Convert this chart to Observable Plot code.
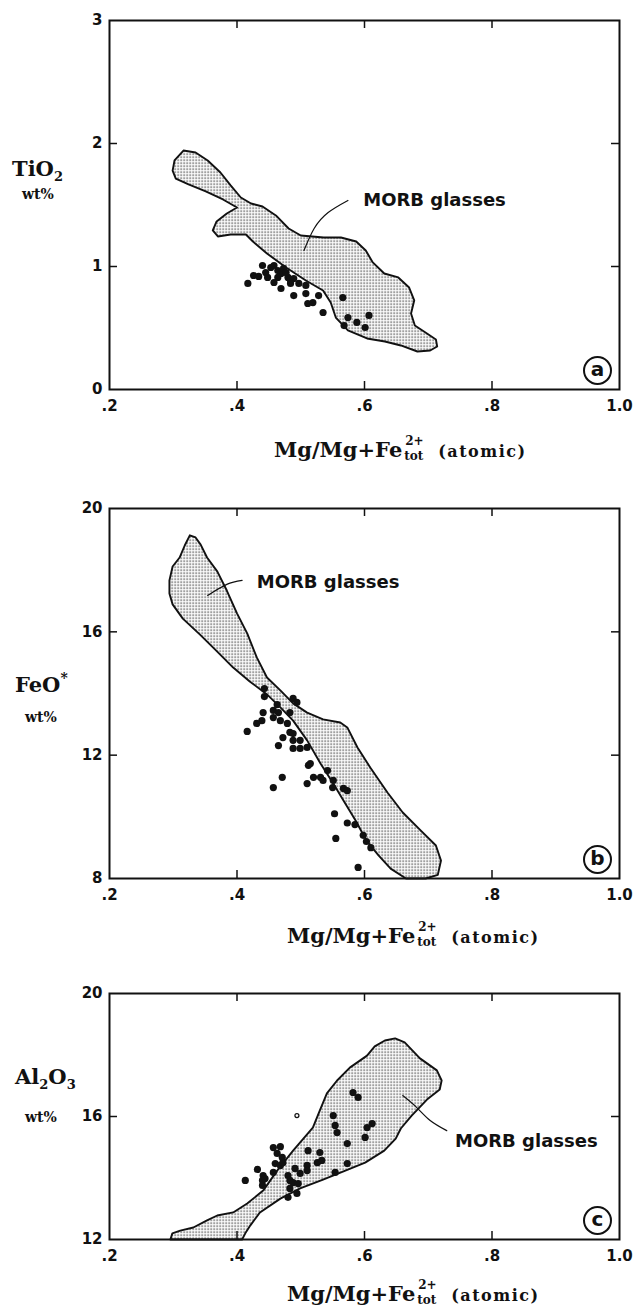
<!DOCTYPE html>
<html><head><meta charset="utf-8">
<script src="https://cdn.jsdelivr.net/npm/d3@7"></script>
<script src="https://cdn.jsdelivr.net/npm/@observablehq/plot@0.6"></script>
<style>
body{margin:0;background:#fff;}
#wrap{position:relative;width:633px;height:1309px;overflow:hidden;background:#fff;}
.panel{position:absolute;left:0;}
.lab{position:absolute;white-space:nowrap;font-family:"DejaVu Serif",serif;font-weight:bold;color:#111;line-height:1;}
.xt{font-size:21px;}
.ss{display:inline-block;position:relative;width:26px;height:21px;}
.ss .sup{position:absolute;left:3px;top:-1px;font-size:12px;}
.ss .sub{position:absolute;left:2px;top:14px;font-size:12px;}
.atom{font-size:16px;margin-left:10px;letter-spacing:1.5px;}
.yt{font-size:21px;}
.sb{position:relative;top:5px;font-size:13px;}
.sp{position:relative;top:-9px;font-size:14px;}
.wt{font-size:14px;}
</style></head><body><div id="wrap"></div>
<script>
// ---------- data ----------
const xTicks = [0.2, 0.4, 0.6, 0.8, 1.0];
const xTickLabels = [".2", ".4", ".6", ".8", "1.0"];
const xInnerTicks = [0.4, 0.6, 0.8];

const tiTicks = [0, 1, 2, 3];
const tiTickLabels = ["0", "1", "2", "3"];
const tiInnerTicks = [1, 2];
const feTicks = [8, 12, 16, 20];
const feTickLabels = ["8", "12", "16", "20"];
const feInnerTicks = [12, 16];
const alTicks = [12, 16, 20];
const alTickLabels = ["12", "16", "20"];
const alInnerTicks = [16];

// MORB glasses fields (outline)
const tiMorb = [[0.299,1.780],[0.302,1.862],[0.316,1.943],[0.335,1.927],[0.354,1.862],[0.374,1.764],[0.390,1.659],[0.406,1.561],[0.422,1.512],[0.440,1.488],[0.461,1.415],[0.481,1.309],[0.500,1.252],[0.536,1.236],[0.563,1.236],[0.587,1.203],[0.602,1.130],[0.613,1.033],[0.631,0.943],[0.653,0.911],[0.670,0.829],[0.678,0.724],[0.673,0.618],[0.679,0.520],[0.698,0.455],[0.712,0.407],[0.714,0.350],[0.703,0.317],[0.683,0.309],[0.657,0.358],[0.632,0.390],[0.604,0.415],[0.574,0.480],[0.555,0.585],[0.547,0.707],[0.535,0.805],[0.508,0.886],[0.477,0.992],[0.447,1.106],[0.425,1.203],[0.414,1.260],[0.390,1.260],[0.370,1.244],[0.362,1.293],[0.368,1.366],[0.384,1.431],[0.400,1.480],[0.378,1.545],[0.351,1.610],[0.324,1.667],[0.304,1.715]];
const feMorb = [[0.326,19.13],[0.335,19.06],[0.343,18.83],[0.353,18.41],[0.369,17.96],[0.384,17.34],[0.400,16.60],[0.416,15.95],[0.431,15.17],[0.447,14.52],[0.468,14.10],[0.488,13.68],[0.510,13.38],[0.535,13.16],[0.562,13.06],[0.573,12.90],[0.589,12.25],[0.609,11.60],[0.636,10.79],[0.660,10.14],[0.688,9.56],[0.712,9.07],[0.720,8.58],[0.715,8.12],[0.696,8.0],[0.665,8.0],[0.641,8.32],[0.622,8.75],[0.603,9.23],[0.586,9.88],[0.567,10.53],[0.551,11.08],[0.531,11.73],[0.510,12.48],[0.488,13.12],[0.468,13.55],[0.447,13.97],[0.420,14.39],[0.394,14.84],[0.369,15.36],[0.342,15.91],[0.315,16.43],[0.299,16.89],[0.294,17.24],[0.294,17.67],[0.299,18.12],[0.310,18.41],[0.318,18.80]];
const alMorb = [[0.2955,12.0],[0.2986,12.20],[0.311,12.29],[0.3315,12.39],[0.353,12.62],[0.369,12.78],[0.394,12.88],[0.416,13.17],[0.441,13.59],[0.463,14.24],[0.488,14.89],[0.519,15.64],[0.530,16.20],[0.541,16.75],[0.557,17.17],[0.577,17.59],[0.604,17.98],[0.616,18.28],[0.632,18.47],[0.648,18.54],[0.663,18.41],[0.687,17.89],[0.7135,17.50],[0.721,17.17],[0.718,16.88],[0.698,16.55],[0.674,16.03],[0.657,15.61],[0.649,15.28],[0.631,14.89],[0.601,14.50],[0.570,14.24],[0.535,13.95],[0.499,13.66],[0.468,13.33],[0.436,12.88],[0.421,12.46],[0.413,12.2],[0.408,12.0]];

// samples
const tiSamples = [[0.417,0.862],[0.426,0.927],[0.434,0.919],[0.440,1.008],[0.453,0.992],[0.458,1.008],[0.464,0.967],[0.469,0.943],[0.473,0.984],[0.480,0.911],[0.484,0.886],[0.489,0.902],[0.497,0.862],[0.508,0.846],[0.458,0.870],[0.469,0.821],[0.489,0.764],[0.508,0.780],[0.528,0.764],[0.511,0.699],[0.519,0.707],[0.535,0.626],[0.566,0.748],[0.574,0.585],[0.607,0.602],[0.588,0.545],[0.601,0.504],[0.568,0.520],[0.448,0.911],[0.464,0.911],[0.484,0.862],[0.445,0.951],[0.477,0.951]];
const feSamples = [[0.443,14.16],[0.443,13.90],[0.463,13.64],[0.457,13.45],[0.465,13.38],[0.441,13.38],[0.439,13.12],[0.431,13.03],[0.457,13.22],[0.468,13.12],[0.488,13.84],[0.494,13.71],[0.483,13.38],[0.479,13.03],[0.483,12.74],[0.488,12.70],[0.416,12.77],[0.472,12.57],[0.488,12.48],[0.499,12.48],[0.499,12.22],[0.488,12.22],[0.510,12.25],[0.465,12.31],[0.512,11.67],[0.520,11.28],[0.471,11.28],[0.457,10.95],[0.510,11.08],[0.531,11.28],[0.535,11.18],[0.551,11.18],[0.567,10.92],[0.542,11.50],[0.550,10.95],[0.515,11.73],[0.553,10.1],[0.555,9.3],[0.573,9.8],[0.585,9.75],[0.598,9.4],[0.603,9.2],[0.61,9.0],[0.59,8.36],[0.573,10.85]];
const alSamples = [[0.413,13.92],[0.432,14.28],[0.441,14.08],[0.440,13.92],[0.440,13.76],[0.444,13.98],[0.457,14.18],[0.460,14.47],[0.457,14.99],[0.468,15.02],[0.463,14.80],[0.471,14.67],[0.468,14.41],[0.472,14.50],[0.491,14.31],[0.480,14.08],[0.483,13.92],[0.488,13.85],[0.496,13.82],[0.499,14.15],[0.483,13.66],[0.480,13.37],[0.494,13.50],[0.510,14.41],[0.5115,14.89],[0.510,14.24],[0.526,14.50],[0.530,14.83],[0.533,14.57],[0.554,14.18],[0.551,16.03],[0.554,15.71],[0.557,15.48],[0.573,15.12],[0.573,14.47],[0.582,16.78],[0.590,16.62],[0.604,15.64],[0.612,15.77],[0.601,15.32]];
const alSmall = [[0.494,16.03]];

// annotations
const tiLabel = [[0.598,1.537]];
const tiLeader = [[0.574,1.537],[0.543,1.439],[0.521,1.309],[0.505,1.130]];
const feLabel = [[0.431,17.60]];
const feLeader = [[0.408,17.67],[0.384,17.54],[0.354,17.18]];
const alLabel = [[0.742,15.19]];
const alLeader = [[0.729,15.54],[0.703,15.87],[0.682,16.29],[0.660,16.68]];

// ---------- drawing ----------
const wrap = document.getElementById("wrap");
const INK = "#111";

function panel(o) {
  const mt = 20, mb = 31, ml = 109, mr = 14, W = 633;
  const frameW = W - ml - mr;
  const id = "stip-" + o.letter;
  const fmt = (ticks, labels) => d => labels[ticks.indexOf(d)];
  const svg = Plot.plot({
    width: W, height: mt + o.frameH + mb,
    marginTop: mt, marginBottom: mb, marginLeft: ml, marginRight: mr,
    x: {domain: [0.2, 1.0]},
    y: {domain: o.yDomain},
    style: {fontFamily: "DejaVu Sans", fontSize: "15px", fontWeight: "bold", color: INK, background: "transparent", overflow: "visible"},
    marks: [
      Plot.line(o.region, {x: d => d[0], y: d => d[1], curve: "linear-closed", fill: `url(#${id})`, stroke: INK, strokeWidth: 1.9}),
      Plot.dot(o.samples, {x: d => d[0], y: d => d[1], r: 3.6, fill: INK, stroke: null}),
      o.small ? Plot.dot(o.small, {x: d => d[0], y: d => d[1], r: 2, fill: "white", stroke: INK, strokeWidth: 1.2}) : null,
      Plot.line(o.leader, {x: d => d[0], y: d => d[1], curve: "natural", stroke: INK, strokeWidth: 1.2}),
      Plot.text(o.label, {x: d => d[0], y: d => d[1], text: () => "MORB glasses", textAnchor: "start", lineAnchor: "middle", fontSize: 18, fontFamily: "DejaVu Sans", fontWeight: "bold", fill: INK}),
      Plot.frame({stroke: INK, strokeWidth: 2}),
      Plot.ruleX(xInnerTicks, {x: d => d, insetTop: o.frameH - 8, stroke: INK, strokeWidth: 1.5}),
      Plot.ruleX(xInnerTicks, {x: d => d, insetBottom: o.frameH - 8, stroke: INK, strokeWidth: 1.5}),
      Plot.ruleY(o.yInner, {y: d => d, insetRight: frameW - 8, stroke: INK, strokeWidth: 1.5}),
      Plot.ruleY(o.yInner, {y: d => d, insetLeft: frameW - 8, stroke: INK, strokeWidth: 1.5}),
      Plot.axisX({ticks: xTicks, tickSize: 0, tickPadding: 11, tickFormat: fmt(xTicks, xTickLabels), fontSize: 15, fontWeight: "bold"}),
      Plot.axisY({ticks: o.yTicks, tickSize: 0, tickPadding: 7, tickFormat: fmt(o.yTicks, o.yTickLabels), fontSize: 15, fontWeight: "bold"}),
      Plot.dot([o.letter], {frameAnchor: "bottom-right", dx: -22, dy: -19, r: 13.5, fill: "white", stroke: INK, strokeWidth: 2}),
      Plot.text([o.letter], {frameAnchor: "bottom-right", dx: -22, dy: -20, textAnchor: "middle", lineAnchor: "middle", text: d => d, fontSize: 20, fontWeight: "bold", fontFamily: "DejaVu Sans", fill: INK})
    ]
  });
  const defs = d3.select(svg).insert("defs", ":first-child");
  const pat = defs.append("pattern").attr("id", id).attr("width", 3).attr("height", 3).attr("patternUnits", "userSpaceOnUse");
  pat.append("rect").attr("width", 3).attr("height", 3).attr("fill", "#fff");
  pat.append("rect").attr("width", 1.3).attr("height", 1.3).attr("fill", "#222");
  const div = document.createElement("div");
  div.className = "panel";
  div.style.top = (o.frameTop - mt) + "px";
  div.appendChild(svg);
  wrap.appendChild(div);
}

panel({frameTop: 20, frameH: 369, yDomain: [0, 3], yTicks: tiTicks, yTickLabels: tiTickLabels, yInner: tiInnerTicks, region: tiMorb, samples: tiSamples, leader: tiLeader, label: tiLabel, letter: "a"});
panel({frameTop: 508, frameH: 370, yDomain: [8, 20], yTicks: feTicks, yTickLabels: feTickLabels, yInner: feInnerTicks, region: feMorb, samples: feSamples, leader: feLeader, label: feLabel, letter: "b"});
panel({frameTop: 993, frameH: 246, yDomain: [12, 20], yTicks: alTicks, yTickLabels: alTickLabels, yInner: alInnerTicks, region: alMorb, samples: alSamples, small: alSmall, leader: alLeader, label: alLabel, letter: "c"});

// ---------- axis titles ----------
function lab(html, cls, left, baseline, size) {
  const d = document.createElement("div");
  d.className = "lab " + cls;
  d.style.left = left + "px";
  d.style.top = (baseline - 0.85 * size) + "px";
  d.innerHTML = html;
  wrap.appendChild(d);
}
const xTitle = 'Mg/Mg+Fe<span class="ss"><span class="sup">2+</span><span class="sub">tot</span></span><span class="atom">(atomic)</span>';
lab(xTitle, "xt", 274, 454, 21);
lab(xTitle, "xt", 287, 940, 21);
lab(xTitle, "xt", 287, 1298, 21);
lab('TiO<span class="sb">2</span>', "yt", 12, 176, 21);
lab('wt%', "wt", 22, 199, 14);
lab('FeO<span class="sp">*</span>', "yt", 15, 692, 21);
lab('wt%', "wt", 25, 722, 14);
lab('Al<span class="sb">2</span>O<span class="sb">3</span>', "yt", 15, 1084, 21);
lab('wt%', "wt", 25, 1122, 14);
</script></body></html>
